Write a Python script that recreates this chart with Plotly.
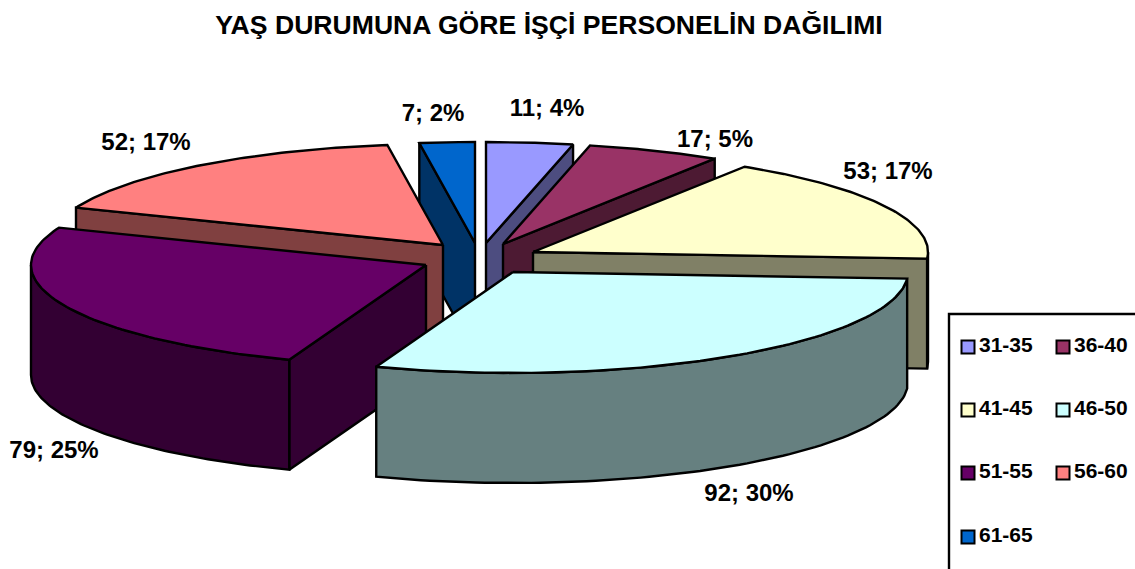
import numpy as np
import plotly.graph_objects as go

title = "YAŞ DURUMUNA GÖRE İŞÇİ PERSONELİN DAĞILIMI"
categories = ["31-35", "36-40", "41-45", "46-50", "51-55", "56-60", "61-65"]
counts = [11, 17, 53, 92, 79, 52, 7]
percents = [4, 5, 17, 30, 25, 17, 2]

top_colors = ["#9999FF", "#993366", "#FFFFCC", "#CCFFFF", "#660066", "#FF8080", "#0066CC"]
wall_colors = ["#4D4D80", "#4D1A33", "#808066", "#668080", "#330033", "#804040", "#003366"]

# Style of the exploded, tilted pie (in pixel-mapped axes)
apex_x = [486, 503, 533, 513, 426, 443, 475]
apex_y = [243, 244, 252, 272, 265, 245, 243]
RX, RY, DEPTH = 395, 101, 110
draw_order = [6, 0, 1, 2, 5, 4, 3]
label_x = [547, 715, 888, 749, 54, 146, 433]
label_y = [110, 141, 173, 495, 452, 144, 115]
legend_x = [968, 1063, 968, 1063, 968, 1063, 968]
legend_y = [347, 347, 410, 410, 473, 473, 537]
legend_text_x = [979, 1074, 979, 1074, 979, 1074, 979]
LINE = 2.4

total = sum(counts)
edges = np.cumsum([0] + counts) / total * 2 * np.pi

fig = go.Figure()


def poly(xs, ys, fill, name):
    fig.add_trace(go.Scatter(
        x=list(xs) + [xs[0]], y=list(ys) + [ys[0]], mode="lines", fill="toself",
        fillcolor=fill, line=dict(color="black", width=LINE), name=name,
        showlegend=False, hoverinfo="name",
    ))


for i in draw_order:
    a, b = edges[i], edges[i + 1]
    ax, ay = apex_x[i], apex_y[i]
    name = categories[i]
    t = np.linspace(a, b, 80)
    ex = ax + RX * np.sin(t)
    ey = ay - RY * np.cos(t)
    # cut walls that face the viewer
    if np.sin(a) < -1e-9:
        poly([ax, ex[0], ex[0], ax], [ay, ey[0], ey[0] + DEPTH, ay + DEPTH], wall_colors[i], name)
    if np.sin(b) > 1e-9:
        poly([ax, ex[-1], ex[-1], ax], [ay, ey[-1], ey[-1] + DEPTH, ay + DEPTH], wall_colors[i], name)
    # outer wall: only the near half of the rim
    lo, hi = max(a, np.pi / 2), min(b, 3 * np.pi / 2)
    if hi > lo:
        w = np.linspace(lo, hi, 80)
        wx = ax + RX * np.sin(w)
        wy = ay - RY * np.cos(w)
        poly(np.r_[wx, wx[::-1]], np.r_[wy, wy[::-1] + DEPTH], wall_colors[i], name)
    # top face
    poly(np.r_[ax, ex], np.r_[ay, ey], top_colors[i], name)

label_font = dict(family="Liberation Sans", size=24, color="black")
legend_font = dict(family="Liberation Sans", size=21, color="black")
labels = [f"<b>{c}; {p}%</b>" for c, p in zip(counts, percents)]
fig.add_trace(go.Scatter(x=label_x, y=label_y, mode="text", text=labels, textposition="middle center",
                         textfont=label_font, showlegend=False, hoverinfo="skip"))

# Legend panel
fig.add_shape(type="rect", x0=949, y0=314, x1=1145, y1=585, line=dict(color="black", width=2.4),
              fillcolor="white", layer="below")
fig.add_trace(go.Scatter(
    x=legend_x, y=legend_y, mode="markers",
    marker=dict(symbol="square", size=13, color=top_colors, line=dict(color="black", width=2)),
    showlegend=False, hoverinfo="skip",
))
fig.add_trace(go.Scatter(
    x=legend_text_x, y=legend_y, mode="text",
    text=[f"<b>{c}</b>" for c in categories], textposition="middle right",
    textfont=legend_font, showlegend=False, hoverinfo="skip",
))

fig.update_layout(
    width=1135, height=569, autosize=False,
    margin=dict(l=0, r=0, t=0, b=0),
    paper_bgcolor="white", plot_bgcolor="white", showlegend=False,
    xaxis=dict(range=[0, 1135], visible=False, fixedrange=True),
    yaxis=dict(range=[569, 0], visible=False, fixedrange=True),
    title=dict(text=f"<b>{title}</b>", x=549 / 1135, xanchor="center", y=1 - 24.5 / 569, yanchor="middle",
               font=dict(family="Liberation Sans", size=26.6, color="black")),
)
fig.write_html("out.html", config=dict(displayModeBar=False),
               post_script="document.body.style.margin='0';document.documentElement.style.overflow='hidden';")
